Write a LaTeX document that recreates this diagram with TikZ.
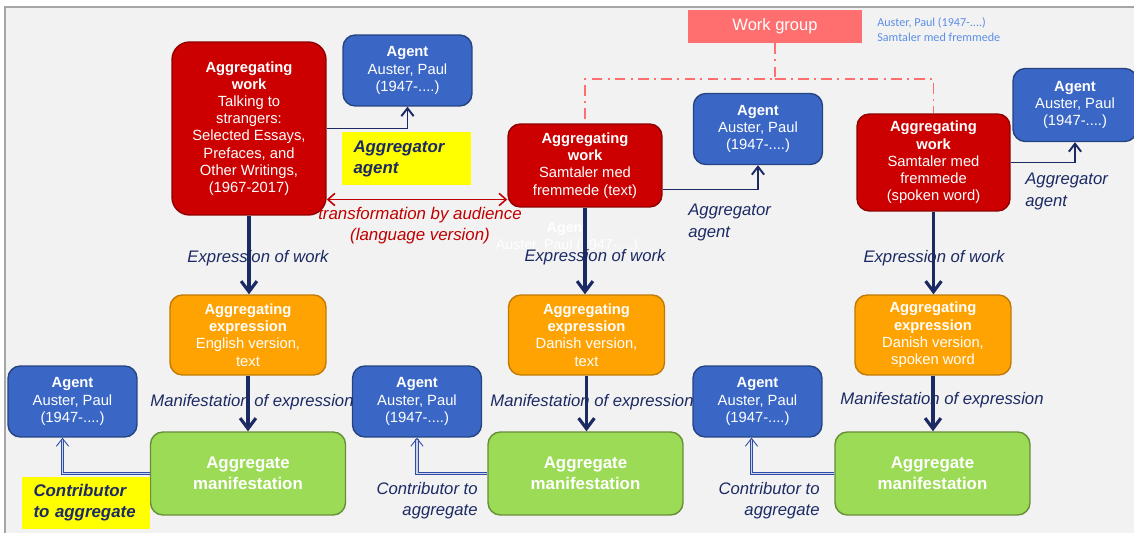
\documentclass[tikz,border=0pt]{standalone}
\usepackage{fontspec}
\setmainfont{Liberation Sans}
\newfontfamily\notefont{Carlito}
\usetikzlibrary{arrows.meta,calc}

\definecolor{pagebg}{HTML}{F2F2F2}
\definecolor{pageedge}{HTML}{A6A6A6}
\definecolor{workred}{HTML}{CC0000}
\definecolor{agentblue}{HTML}{3A67C6}
\definecolor{exprorange}{HTML}{FFA303}
\definecolor{manigreen}{HTML}{9CDB55}
\definecolor{navy}{HTML}{1C2A64}
\definecolor{noteyellow}{HTML}{FFFF00}
\definecolor{groupred}{HTML}{FF6F6F}
\definecolor{groupblue}{HTML}{5B8EE6}
\definecolor{transred}{HTML}{C00000}
\definecolor{contribblue}{HTML}{2E4DA8}

\tikzstyle{box}=[rounded corners=7pt, align=center, text=white, inner sep=0, line width=0.8pt, font=\fontsize{8.4}{9.8}\selectfont]
\tikzstyle{work}=[box, fill=workred, draw=workred!70!black, minimum width=3.08cm]
\tikzstyle{agent}=[box, fill=agentblue, draw=agentblue!65!black, minimum width=2.58cm, minimum height=1.42cm]
\tikzstyle{expr}=[box, fill=exprorange, draw=exprorange!75!black, minimum width=3.12cm, minimum height=1.6cm]
\tikzstyle{mani}=[box, fill=manigreen, draw=manigreen!65!black, minimum width=3.9cm, minimum height=1.66cm, font=\bfseries\fontsize{9.6}{11.9}\selectfont]
\tikzstyle{group}=[fill=groupred, text=white, minimum width=3.48cm, minimum height=0.66cm, inner sep=0, font=\fontsize{9.4}{11}\selectfont]
\tikzstyle{groupnote}=[text=groupblue, align=left, inner sep=0, font=\notefont\fontsize{6.9}{8.5}\selectfont]
\tikzstyle{note}=[fill=noteyellow, text=navy, align=left, inner xsep=0.23cm, inner ysep=0, font=\bfseries\itshape\fontsize{9.6}{12}\selectfont]
\tikzstyle{rel}=[text=navy, inner sep=0, font=\itshape\fontsize{9.5}{12}\selectfont]
\tikzstyle{translabel}=[text=transred, align=center, inner sep=0, font=\itshape\fontsize{9.6}{12}\selectfont]
\tikzstyle{flow}=[draw=navy, line width=1.8pt, -{Straight Barb[length=6pt,width=9pt]}]
\tikzstyle{link}=[draw=navy, line width=1.1pt, -{Straight Barb[length=4.5pt,width=7pt]}]
\tikzstyle{trans}=[draw=transred, line width=0.9pt, {Straight Barb[length=4pt,width=7pt]}-{Straight Barb[length=4pt,width=7pt]}]
\tikzstyle{groupline}=[draw=groupred, line width=1.1pt, dash pattern=on 6pt off 3pt on 1.2pt off 3pt]
\tikzstyle{contrib}=[draw=contribblue, double=contribblue!25, double distance=0.8pt, line width=0.5pt, -{Straight Barb[length=4.5pt,width=7pt]}]

\begin{document}
\begin{tikzpicture}[x=0.02cm, y=-0.02cm]

\useasboundingbox (0,0) rectangle (1134,533);
\fill [pagebg] (5,7) rectangle (1134,533);
\draw [pageedge, line width=1pt] (5,533) -- (5,7) -- (1134,7);

% work group
\node [group] (wg) at (775,26.5) {Work group};
\node [groupnote, anchor=west] (wgnote) at (877,29.5) {Auster, Paul (1947-....)\\Samtaler med fremmede};

% aggregating works
\node [work, minimum height=3.46cm, rounded corners=10pt] (w1) at (249,128.5)
  {\textbf{Aggregating}\\\textbf{work}\\Talking to\\strangers:\\Selected Essays,\\Prefaces, and\\Other Writings,\\(1967-2017)};
\node [work, minimum height=1.66cm] (w2) at (585,165.5)
  {\textbf{Aggregating}\\\textbf{work}\\Samtaler med\\fremmede (text)};
\node [work, minimum width=3.06cm, minimum height=1.94cm] (w3) at (933.5,162.5)
  {\textbf{Aggregating}\\\textbf{work}\\Samtaler med\\fremmede\\(spoken word)};

% aggregator agents
\node [agent] (a1) at (407.5,70.5) {\textbf{Agent}\\Auster, Paul\\(1947-....)};
\node [agent] (a2) at (758,129) {\textbf{Agent}\\Auster, Paul\\(1947-....)};
\node [agent, minimum width=2.48cm, minimum height=1.46cm] (a3) at (1075,105) {\textbf{Agent}\\Auster, Paul\\(1947-....)};

% expressions
\node [expr] (e1) at (248,335) {\textbf{Aggregating}\\\textbf{expression}\\English version,\\text};
\node [expr] (e2) at (586.5,335) {\textbf{Aggregating}\\\textbf{expression}\\Danish version,\\text};
\node [expr] (e3) at (933,335) {\textbf{Aggregating}\\\textbf{expression}\\Danish version,\\spoken word};

% manifestations
\node [mani] (m1) at (248,473.5) {Aggregate\\manifestation};
\node [mani] (m2) at (585.5,473.5) {Aggregate\\manifestation};
\node [mani] (m3) at (932.5,473.5) {Aggregate\\manifestation};

% contributors
\node [agent] (b1) at (72.5,401.5) {\textbf{Agent}\\Auster, Paul\\(1947-....)};
\node [agent] (b2) at (417,401.5) {\textbf{Agent}\\Auster, Paul\\(1947-....)};
\node [agent] (b3) at (757.5,401.5) {\textbf{Agent}\\Auster, Paul\\(1947-....)};

% labels
\node [note, text width=2.12cm, minimum height=1.06cm] (n1) at (406.5,158.5) {Aggregator\\agent};
\node [rel, anchor=west, align=left] (r2) at (688,222.5) {Aggregator\\agent};
\node [rel, anchor=west, align=left] (r3) at (1025,191.5) {Aggregator\\agent};
\node [translabel] (tr) at (420,225.5) {transformation by audience\\(language version)};
\node [text=white, align=center, inner sep=0, font=\fontsize{8.1}{9.6}\selectfont] (ghost) at (567,237.5) {\textbf{Agent}\\Auster, Paul (1947-....)};
\node [rel] (x1) at (258,258) {Expression of work};
\node [rel] (x2) at (595,257) {Expression of work};
\node [rel] (x3) at (934,258) {Expression of work};
\node [rel] (y1) at (252,402) {Manifestation of expression};
\node [rel] (y2) at (592,402) {Manifestation of expression};
\node [rel] (y3) at (942,400) {Manifestation of expression};
\node [note, text width=2.1cm, minimum height=1.04cm] (n2) at (86,503) {Contributor\\to aggregate};
\node [rel, anchor=east, align=right] (c2) at (478,500.5) {Contributor to\\aggregate};
\node [rel, anchor=east, align=right] (c3) at (820,500.5) {Contributor to\\aggregate};

% connectors
\coordinate (gj) at ($(wg.south)+(0,36)$);
\draw [groupline] (wg.south) -- (gj) -| (w2.north);
\draw [groupline] (gj) -| (w3.north);

\draw [link] (w1.east) -| (a1.south);
\draw [link] ($(w2.east)+(0,24)$) -| (a2.south);
\draw [link] (w3.east) -| (a3.south);

\coordinate (tl) at ($(w1.east)+(0,71)$);
\draw [trans] (tl) -- (tl -| w2.west);

\draw [flow] (w1.south) -- (w1.south |- e1.north);
\draw [flow] (w2.south) -- (w2.south |- e2.north);
\draw [flow] (w3.south) -- (w3.south |- e3.north);
\draw [flow] (e1.south) -- (e1.south |- m1.north);
\draw [flow] (e2.south) -- (e2.south |- m2.north);
\draw [flow] (e3.south) -- (e3.south |- m3.north);

\draw [contrib] (m1.west) -| ($(b1.south)+(-10,0)$);
\draw [contrib] (m2.west) -| (b2.south);
\draw [contrib] (m3.west) -| ($(b3.south)+(-6,0)$);

\end{tikzpicture}
\end{document}
